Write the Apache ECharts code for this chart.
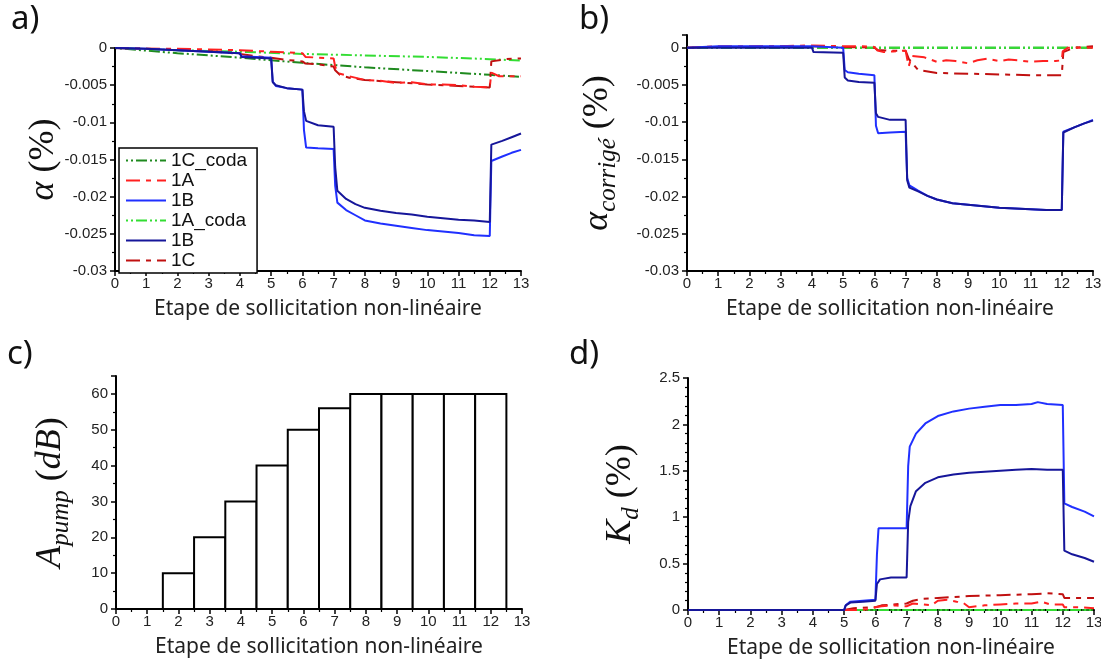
<!DOCTYPE html>
<html><head><meta charset="utf-8">
<script src="https://cdn.jsdelivr.net/npm/echarts@6/dist/echarts.min.js"></script>
<style>html,body{margin:0;padding:0;background:#fff}#c{width:1101px;height:664px}</style>
</head><body><div id="c"></div><script>
// ---------- DATA ----------
const xTitle = 'Etape de sollicitation non-linéaire';
const legendNames = ['1C_coda', '1A', '1B', '1A_coda', '1B#2', '1C'];

// panel a : alpha (%)
const a_1Cc = [[0,0],[2,-0.0007],[4,-0.0013],[6,-0.002],[8,-0.0026],[10,-0.0031],[12,-0.0036],[13,-0.0039]];
const a_1Ac = [[0,0],[2,-0.0003],[4,-0.0005],[6,-0.0008],[8,-0.001],[10,-0.0012],[12,-0.0015],[13,-0.0017]];
const a_1A = [[0,0],[1,-0.0001],[2,-0.0001],[3,-0.0002],[4,-0.0003],[4.5,-0.0004],[5,-0.0005],[5.5,-0.0006],[6,-0.0007],[6.1,-0.0012],[6.5,-0.0013],[7,-0.0014],[7.05,-0.0025],[7.15,-0.0034],[7.5,-0.0038],[8,-0.0043],[8.5,-0.0044],[9,-0.0047],[9.5,-0.0046],[10,-0.0049],[10.5,-0.0049],[11,-0.005],[11.5,-0.0052],[12,-0.0053],[12.05,-0.0033],[12.3,-0.0038],[13,-0.0038]];
const a_1C = [[0,0],[1,-0.0001],[2,-0.0002],[3,-0.0004],[4,-0.0008],[4.5,-0.0011],[5,-0.0013],[5.5,-0.0016],[6,-0.0018],[6.1,-0.0021],[6.5,-0.0022],[7,-0.0025],[7.05,-0.003],[7.2,-0.0036],[7.5,-0.004],[8,-0.0043],[9,-0.0046],[10,-0.0049],[11,-0.0051],[12,-0.0053],[12.05,-0.0018],[12.5,-0.0015],[13,-0.0014]];
const a_1B = [[0,0],[1,-0.0001],[2,-0.0003],[3,-0.0005],[4,-0.0007],[4.05,-0.0011],[5,-0.0013],[5.05,-0.0045],[5.15,-0.0051],[5.5,-0.0054],[6,-0.0056],[6.05,-0.011],[6.12,-0.0134],[6.5,-0.0135],[7,-0.0136],[7.05,-0.0185],[7.12,-0.0208],[7.4,-0.0218],[7.7,-0.0225],[8,-0.0232],[8.5,-0.0236],[9,-0.0239],[9.5,-0.0242],[10,-0.0245],[10.5,-0.0247],[11,-0.0249],[11.5,-0.0252],[12,-0.0253],[12.05,-0.0152],[12.4,-0.0146],[12.7,-0.0141],[13,-0.0137]];
const a_1B2 = [[0,0],[1,-0.0001],[2,-0.0003],[3,-0.0005],[4,-0.0007],[4.05,-0.0012],[5,-0.0014],[5.05,-0.0046],[5.15,-0.005],[5.5,-0.0054],[6,-0.0056],[6.05,-0.0085],[6.12,-0.0098],[6.5,-0.0104],[7,-0.0106],[7.05,-0.016],[7.12,-0.0192],[7.4,-0.0203],[7.7,-0.021],[8,-0.0215],[8.5,-0.0219],[9,-0.0222],[9.5,-0.0224],[10,-0.0227],[10.5,-0.0229],[11,-0.0231],[11.5,-0.0232],[12,-0.0234],[12.05,-0.013],[12.4,-0.0125],[12.7,-0.012],[13,-0.0115]];

// panel b : alpha corrige (%)
const b_1Cc = [[0,0],[13,0]];
const b_1Ac = [[0,0],[13,0]];
const b_1A = [[0,0],[1,0.0002],[2,0.0002],[3,0.0002],[4,0.0003],[5,0.0002],[5.5,0.0002],[6,0.0001],[6.1,-0.0004],[6.3,-0.0006],[6.6,-0.0005],[7,-0.0004],[7.05,-0.0015],[7.1,-0.0025],[7.2,-0.0011],[7.6,-0.0013],[8,-0.0019],[8.3,-0.0017],[8.6,-0.0018],[9,-0.0021],[9.3,-0.0017],[9.6,-0.0015],[10,-0.0018],[10.3,-0.0016],[10.6,-0.0017],[11,-0.0019],[11.4,-0.0018],[11.8,-0.0018],[12,-0.0017],[12.03,-0.0005],[12.2,0],[13,0]];
const b_1C = [[0,0],[1,0.0001],[2,0.0001],[3,0.0002],[4,0.0002],[5,0.0001],[6,0],[6.1,-0.0003],[6.5,-0.0004],[7,-0.0004],[7.1,-0.0015],[7.4,-0.003],[8,-0.0034],[9,-0.0035],[10,-0.0036],[11,-0.0037],[12,-0.0037],[12.05,-0.0006],[12.4,0],[13,0.0002]];
const b_1B = [[0,0],[1,0.0002],[2,0.0002],[3,0.0002],[4,0.0002],[4.5,0.0001],[5,0],[5.05,-0.003],[5.15,-0.0033],[5.5,-0.0035],[6,-0.0037],[6.05,-0.0105],[6.12,-0.0115],[6.5,-0.0114],[7,-0.0113],[7.05,-0.0175],[7.12,-0.0185],[7.4,-0.0192],[7.7,-0.0199],[8,-0.0204],[8.5,-0.0209],[9,-0.0211],[9.5,-0.0213],[10,-0.0215],[10.5,-0.0216],[11,-0.0217],[11.5,-0.0218],[12,-0.0218],[12.05,-0.0113],[12.4,-0.0107],[12.7,-0.0102],[13,-0.0097]];
const b_1B2 = [[0,0],[1,0],[2,0],[3,0],[4,0],[4.05,-0.0006],[5,-0.0007],[5.05,-0.004],[5.15,-0.0044],[5.5,-0.0046],[6,-0.0047],[6.05,-0.0088],[6.12,-0.0093],[6.5,-0.0097],[7,-0.0097],[7.05,-0.0178],[7.12,-0.0188],[7.4,-0.0193],[7.7,-0.0199],[8,-0.0204],[8.5,-0.0209],[9,-0.0211],[9.5,-0.0213],[10,-0.0215],[10.5,-0.0216],[11,-0.0217],[11.5,-0.0218],[12,-0.0218],[12.05,-0.0114],[12.4,-0.0107],[12.7,-0.0102],[13,-0.0098]];

// panel c : A_pump (dB)
const c_steps = [2, 3, 4, 5, 6, 7, 8, 9, 10, 11, 12];
const c_values = [10, 20, 30, 40, 50, 56, 60, 60, 60, 60, 60];

// panel d : K_d (%)
const d_1Cc = [[0,0],[13,0]];
const d_1Ac = [[5,0],[13,0]];
const d_1A = [[0,0],[5.5,0],[5.8,0.01],[6,0.03],[6.2,0.04],[6.6,0.05],[7,0.04],[7.05,0.05],[7.2,0.07],[7.5,0.06],[7.8,0.05],[8,0.1],[8.3,0.11],[8.6,0.09],[8.8,0.08],[9,0.03],[9.5,0.05],[10,0.06],[10.5,0.07],[11,0.07],[11.3,0.09],[11.6,0.06],[12,0.06],[12.05,0.03],[12.5,0.03],[13,0.02]];
const d_1C = [[0,0],[5,0],[5.3,0.02],[6,0.03],[6.2,0.05],[7,0.07],[7.2,0.1],[7.5,0.12],[8,0.13],[9,0.15],[10,0.16],[11,0.17],[11.5,0.18],[12,0.17],[12.05,0.13],[13,0.13]];
const d_1B = [[0,0],[5,0],[5.05,0.05],[5.2,0.09],[5.6,0.1],[6,0.11],[6.05,0.6],[6.1,0.88],[6.5,0.88],[7,0.88],[7.05,1.55],[7.1,1.76],[7.3,1.9],[7.6,2.01],[8,2.09],[8.5,2.14],[9,2.17],[9.5,2.19],[10,2.21],[10.5,2.21],[11,2.22],[11.2,2.24],[11.5,2.22],[12,2.21],[12.05,1.15],[12.3,1.11],[12.7,1.06],[13,1.01]];
const d_1B2 = [[0,0],[5,0],[5.05,0.05],[5.2,0.08],[5.6,0.09],[6,0.1],[6.05,0.28],[6.15,0.33],[6.5,0.35],[7,0.35],[7.05,0.95],[7.12,1.12],[7.3,1.28],[7.6,1.37],[8,1.43],[8.5,1.46],[9,1.48],[9.5,1.49],[10,1.5],[10.5,1.51],[11,1.52],[11.5,1.51],[12,1.51],[12.05,0.64],[12.3,0.6],[12.7,0.56],[13,0.52]];

// ---------- STYLE ----------
const styles = {
  '1C_coda': {color:'#1f8a1f', type:[2,3,2,3,11,3]},
  '1A_coda': {color:'#33dd33', type:[2,3,2,3,11,3]},
  '1A': {color:'#ff2020', type:[14,6,5,6]},
  '1C': {color:'#c01010', type:[14,6,5,6]},
  '1B': {color:'#2030ff', type:'solid'},
  '1B#2': {color:'#16169a', type:'solid'}
};
const panelData = [
  {'1C_coda':a_1Cc,'1A_coda':a_1Ac,'1A':a_1A,'1C':a_1C,'1B':a_1B,'1B#2':a_1B2},
  {'1C_coda':b_1Cc,'1A_coda':b_1Ac,'1A':b_1A,'1C':b_1C,'1B':b_1B,'1B#2':b_1B2},
  null,
  {'1C_coda':d_1Cc,'1A_coda':d_1Ac,'1A':d_1A,'1C':d_1C,'1B':d_1B,'1B#2':d_1B2}
];
const drawOrder = ['1C_coda','1A_coda','1C','1A','1B','1B#2'];

const grids = [
  {left:115, top:48, width:406, height:223},
  {left:687, top:35, width:406, height:236},
  {left:116, top:376, width:406, height:233},
  {left:688, top:378, width:406, height:232}
].map(g => Object.assign({outerBoundsMode:'none', containLabel:false}, g));

const axLine = {show:true, onZero:false, lineStyle:{color:'#000', width:2}};
const axTick = {show:true, inside:false, length:5, lineStyle:{color:'#000', width:1.5}};
const minor = n => ({show:true, splitNumber:n, length:3, lineStyle:{color:'#000', width:1.2}});
const lblFont = {fontFamily:'Liberation Sans', fontSize:15, color:'#222'};

const xAxes = [0,1,2,3].map(i => ({
  type:'value', gridIndex:i, min:0, max:13, interval:1,
  name:xTitle, nameLocation:'middle', nameGap:28, nameMoveOverlap:false,
  nameTextStyle:{fontFamily:'Noto Sans', fontSize:21, color:'#222'},
  axisLine:axLine, axisTick:axTick, minorTick:minor(2),
  axisLabel:Object.assign({margin:5}, lblFont),
  splitLine:{show:false}, minorSplitLine:{show:false}
}));

const richName = {
  m:{fontFamily:'Liberation Serif', fontStyle:'italic', fontSize:36, lineHeight:46, color:'#111'},
  u:{fontFamily:'Liberation Serif', fontSize:36, lineHeight:46, color:'#111'},
  s:{fontFamily:'Liberation Serif', fontStyle:'italic', fontSize:25, lineHeight:25, verticalAlign:'bottom', color:'#111'}
};
const yNames = ['{m|α} {u|(%)}', '{m|α}{s|corrigé} {u|(%)}', '{m|A}{s|pump} {u|(}{m|dB}{u|)}', '{m|K}{s|d} {u|(%)}'];
const yRanges = [
  {min:-0.03, max:0, interval:0.005, gap:48, split:2},
  {min:-0.03, max:0.0017, interval:0.005, gap:66, split:2},
  {min:0, max:65, interval:10, gap:42, split:2},
  {min:0, max:2.5, interval:0.5, gap:44, split:5}
];
const yAxes = yRanges.map((r,i) => ({
  type:'value', gridIndex:i, min:r.min, max:r.max, interval:r.interval,
  name:yNames[i], nameLocation:'middle', nameRotate:90, nameGap:r.gap, nameMoveOverlap:false,
  nameTextStyle:{fontSize:36, fontFamily:'Liberation Serif', color:'#111', rich:richName},
  axisLine:axLine, axisTick:axTick, minorTick:minor(r.split),
  axisLabel:Object.assign({margin:8, showMaxLabel: (i===1||i===2) ? false : true}, lblFont),
  splitLine:{show:false}, minorSplitLine:{show:false}
}));

const series = [];
[0,1,3].forEach(p => {
  drawOrder.forEach(n => {
    series.push({
      type:'line', name:n, xAxisIndex:p, yAxisIndex:p, data:panelData[p][n],
      symbol:'none', showSymbol:false, smooth:false, animation:false,
      color:styles[n].color,
      lineStyle:{color:styles[n].color, width:2, type:styles[n].type},
      emphasis:{disabled:true}
    });
  });
});
series.push({
  type:'custom', xAxisIndex:2, yAxisIndex:2, animation:false,
  data:c_steps.map((s,i)=>[s, c_values[i]]),
  encode:{x:0, y:1},
  renderItem:function(params, api){
    const x = api.value(0), v = api.value(1);
    const p0 = api.coord([x-0.5, v]);
    const p1 = api.coord([x+0.5, 0]);
    return {type:'rect', shape:{x:p0[0], y:p0[1], width:p1[0]-p0[0], height:p1[1]-p0[1]},
      style:{fill:'#fff', stroke:'#000', lineWidth:2}};
  }
});

const panelLabel = (t, x, y) => ({type:'text', left:x, top:y, z:100,
  style:{text:t, fontFamily:'Noto Sans', fontSize:33, fill:'#111'}});

const chart = echarts.init(document.getElementById('c'), null, {renderer:'canvas'});
chart.setOption({
  animation:false,
  backgroundColor:'#fff',
  grid:grids, xAxis:xAxes, yAxis:yAxes, series:series,
  legend:{
    data:legendNames, orient:'vertical', left:119, top:148,
    itemWidth:40, itemHeight:14, itemGap:1, padding:[3,10,3,6],
    borderColor:'#000', borderWidth:1.5, backgroundColor:'#fff',
    selectedMode:false, z:50,
    itemStyle:{opacity:0},
    textStyle:{fontFamily:'Liberation Sans', fontSize:19, lineHeight:18, color:'#111'},
    formatter:n => n.replace('#2','')
  },
  graphic:[panelLabel('a)',11,3), panelLabel('b)',579,3), panelLabel('c)',7,338), panelLabel('d)',569,338)]
});
</script></body></html>
